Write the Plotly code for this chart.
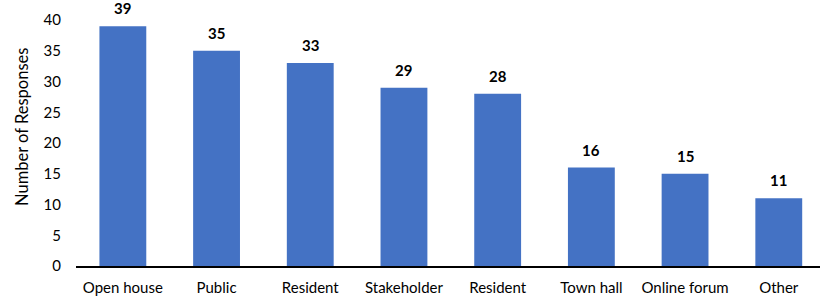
import plotly.graph_objects as go

categories = ["Open house", "Public", "Resident", "Stakeholder", "Resident", "Town hall", "Online forum", "Other"]
values = [39, 35, 33, 29, 28, 16, 15, 11]
y_ticks = [0, 5, 10, 15, 20, 25, 30, 35, 40]
y_title = "Number of Responses"

positions = list(range(len(categories)))
font_family = "Lato, Open Sans, sans-serif"

W, H = 820, 302
L, R, T, B = 76, 0, 20, 36
plot_w = W - L - R
plot_h = H - T - B

fig = go.Figure(go.Bar(
    x=positions,
    y=values,
    width=0.5,
    marker=dict(color="#4472C4", line=dict(width=0)),
    hoverinfo="x+y",
))

for p, v in zip(positions, values):
    fig.add_annotation(
        x=p, y=v, xref="x", yref="y",
        text=f"<b>{v}</b>", showarrow=False,
        yanchor="bottom", yshift=8, borderpad=0,
        font=dict(family=font_family, size=15, color="#000000"),
    )

fig.add_annotation(
    xref="paper", yref="paper",
    x=(22 - L) / plot_w, y=(H - B - 127) / plot_h,
    xanchor="center", yanchor="middle",
    text=y_title, textangle=-90, showarrow=False,
    font=dict(family=font_family, size=16.5, color="#000000"),
)

fig.update_layout(
    width=W, height=H,
    margin=dict(l=L, r=R, t=T, b=B),
    paper_bgcolor="white", plot_bgcolor="white",
    showlegend=False,
    font=dict(family=font_family, size=15, color="#000000"),
)
fig.update_xaxes(
    tickmode="array", tickvals=positions, ticktext=categories,
    range=[-0.5, 7.44],
    showline=True, linecolor="#000000", linewidth=2,
    showgrid=False, zeroline=False, ticks="",
    ticklabelstandoff=7,
    tickfont=dict(family=font_family, size=15, color="#000000"),
)
fig.update_yaxes(
    range=[0, 40], tickmode="array", tickvals=y_ticks,
    showgrid=False, zeroline=False, showline=False, ticks="",
    ticklabelstandoff=14,
    tickfont=dict(family=font_family, size=15, color="#000000"),
)

fig.write_html("out.html", config={"displayModeBar": False},
               post_script="document.body.style.margin='0px';")
